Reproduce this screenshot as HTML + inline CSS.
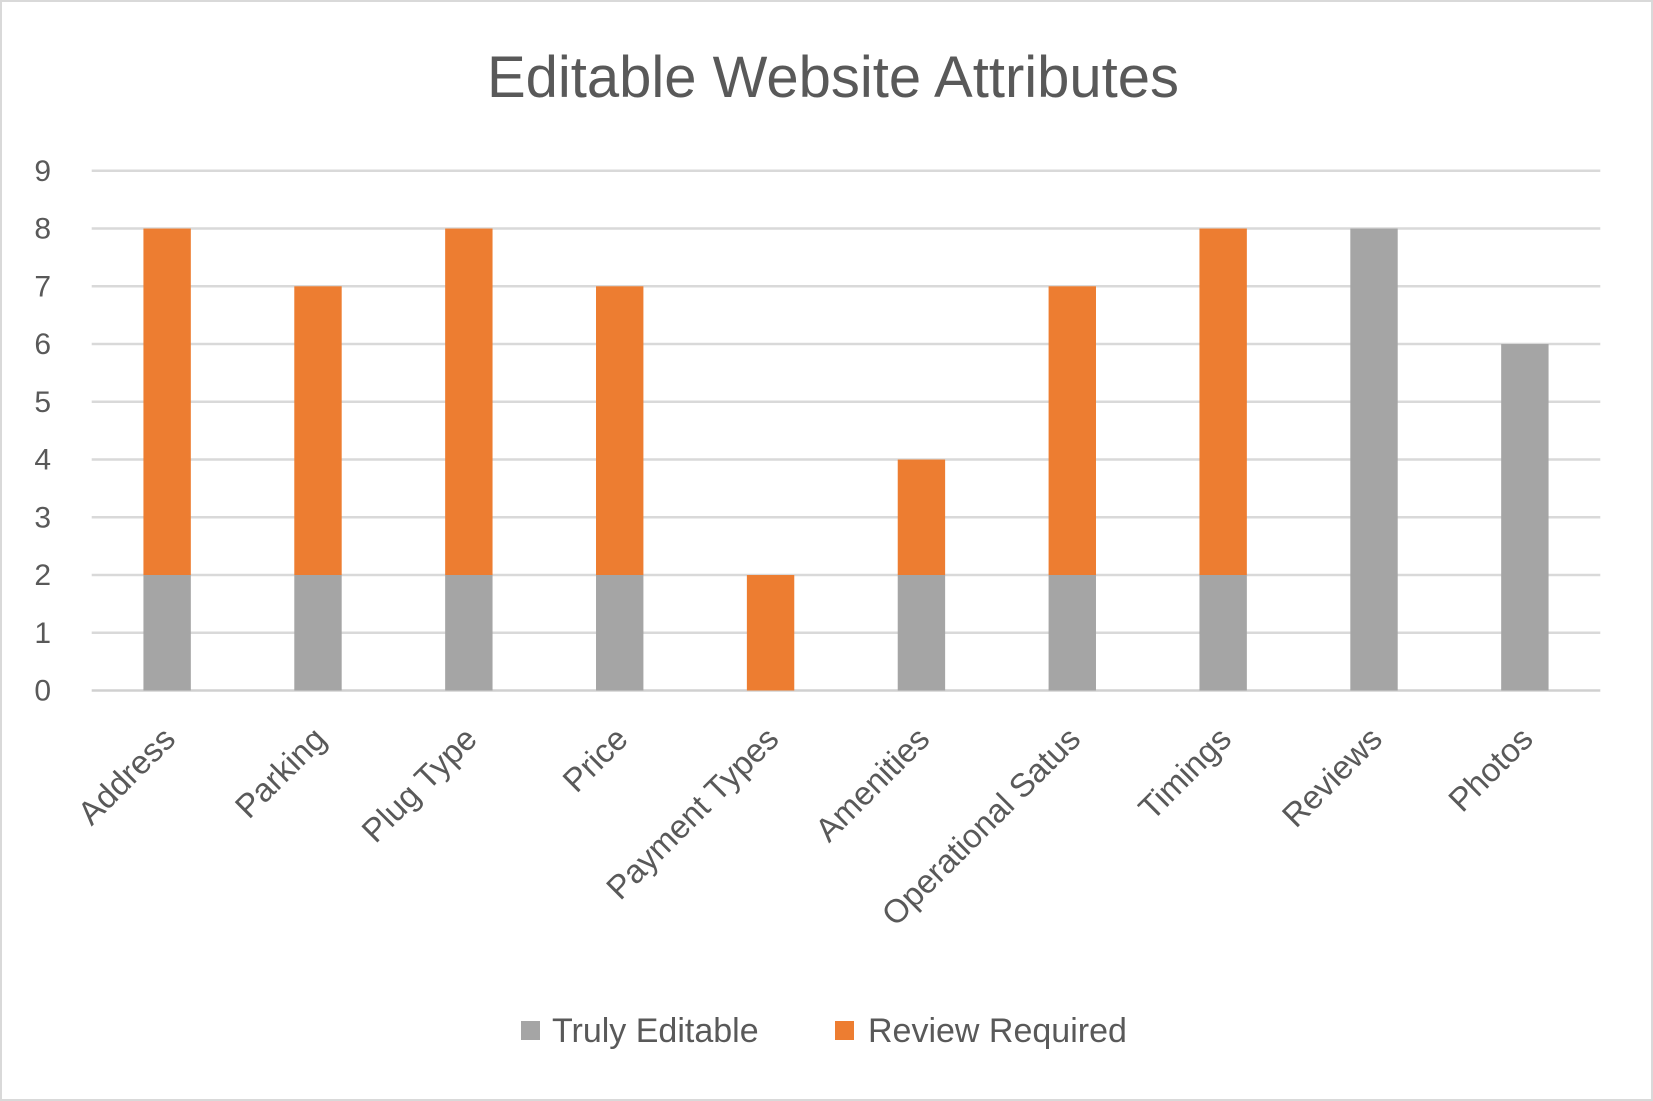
<!DOCTYPE html>
<html><head><meta charset="utf-8"><style>
html,body{margin:0;padding:0;background:#fff;}
svg{display:block;font-family:"Liberation Sans",sans-serif;}
</style></head><body>
<svg id="chart" width="1653" height="1101" viewBox="0 0 1653 1101">
<rect x="1" y="1" width="1651" height="1099" fill="#fff" stroke="#d9d9d9" stroke-width="2"/>
<text x="833" y="97" text-anchor="middle" font-size="58" fill="#595959">Editable Website Attributes</text>
<g id="grid"></g><g id="bars"></g><g id="labels"></g>
<g>
<rect x="521" y="1021" width="19" height="19" fill="#a5a5a5"/>
<text x="552" y="1042" font-size="34" fill="#595959">Truly Editable</text>
<rect x="835" y="1021" width="19" height="19" fill="#ed7d31"/>
<text x="868" y="1042" font-size="34" fill="#595959">Review Required</text>
</g>
</svg>
<script>
const categories=["Address","Parking","Plug Type","Price","Payment Types","Amenities","Operational Satus","Timings","Reviews","Photos"];
const trulyEditable=[2,2,2,2,0,2,2,2,8,6];
const reviewRequired=[6,5,6,5,2,2,5,6,0,0];
const yTicks=[0,1,2,3,4,5,6,7,8,9];
const NS="http://www.w3.org/2000/svg";
const L=91.7,R=1600.3,Y0=690.5,Y9=170.8,BW=47.4;
const y=v=>Y0-(Y0-Y9)*v/9;
const step=(R-L)/categories.length;
const cx=i=>L+step*(i+0.5);
function mk(t,a,p){const e=document.createElementNS(NS,t);for(const k in a)e.setAttribute(k,a[k]);p.appendChild(e);return e;}
const grid=document.getElementById('grid'),bars=document.getElementById('bars'),labels=document.getElementById('labels');
yTicks.forEach(t=>{
 const l=mk('line',{x1:L,x2:R,y1:y(t),y2:y(t),stroke:t===0?'#d0d0d0':'#d9d9d9','stroke-width':2.5},grid);
 
 
 const tx=mk('text',{x:51,y:y(t)+10,'text-anchor':'end','font-size':30,fill:'#595959'},grid);
 tx.textContent=t;
 
 
});
categories.forEach((c,i)=>{
 const x=cx(i)-BW/2;
 const g=trulyEditable[i],o=reviewRequired[i];
 if(g>0){const b=mk('rect',{x:x,y:y(g),width:BW,height:y(0)-y(g),fill:'#a5a5a5'},bars);
  
  }
 if(o>0){const b=mk('rect',{x:x,y:y(g+o),width:BW,height:y(g)-y(g+o),fill:'#ed7d31'},bars);
  
  }
 const ax=cx(i)+10,ay=741;
 const t=mk('text',{x:ax,y:ay,'text-anchor':'end','font-size':33,fill:'#595959',transform:`rotate(-45 ${ax} ${ay})`},labels);
 t.textContent=c;
 
 
});
</script>
</body></html>
